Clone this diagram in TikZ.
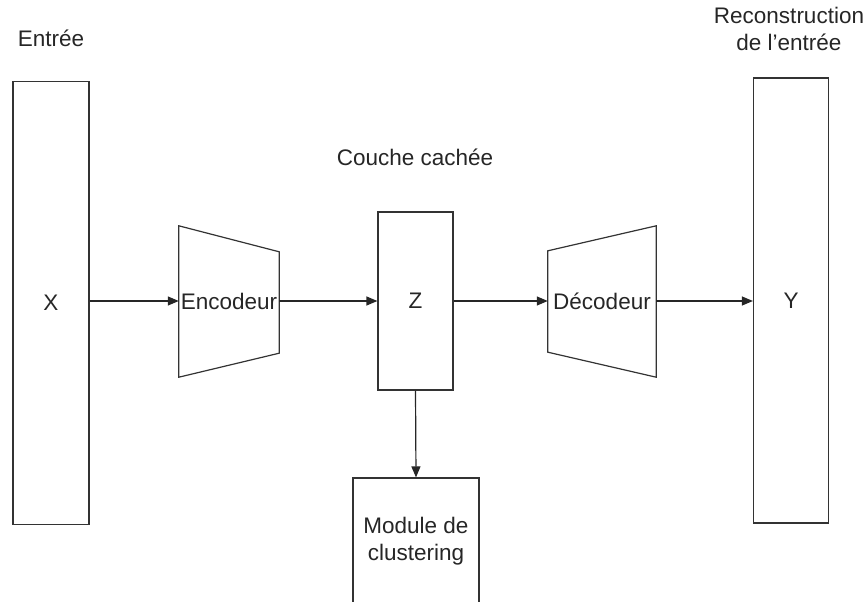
\documentclass[tikz,border=0pt]{standalone}
\usepackage{fontspec}
\setmainfont{Liberation Sans}
\usetikzlibrary{arrows.meta}
\begin{document}
\begin{tikzpicture}[x=1pt,y=-1pt,
  every node/.style={font=\fontsize{22.5}{27}\selectfont, text=black!85},
  box/.style={draw=black!80, line width=1.2pt, inner sep=0pt},
  label/.style={align=center, inner sep=0pt},
  arr/.style={draw=black!85, line width=1.2pt, -{Triangle[length=11pt,width=9pt]}}]
  \useasboundingbox (0,0) rectangle (865,602);

  % input and output layers
  \node[box, minimum width=76pt, minimum height=443pt] (X) at (51,303) {X};
  \node[box, minimum width=75pt, minimum height=445pt] (Y) at (791,300.5) {Y};
  % latent layer
  \node[box, minimum width=75pt, minimum height=178pt] (Z) at (415.5,301) {Z};
  % clustering module (runs off the lower edge)
  \node[box, minimum width=126pt, minimum height=126pt, label] (M) at (416,541) {Module de\\clustering};

  % encoder: narrowing trapezoid
  \node[inner sep=0pt, minimum width=100pt, minimum height=151pt] (enc) at (229,301.5) {Encodeur};
  \draw[black!80, line width=1.2pt]
    (enc.north west) -- ([yshift=-26pt]enc.north east) -- ([yshift=24pt]enc.south east)
    -- (enc.south west) -- cycle;
  % decoder: widening trapezoid
  \node[inner sep=0pt, minimum width=108pt, minimum height=151pt] (dec) at (602,301.5) {Décodeur};
  \draw[black!80, line width=1.2pt]
    ([yshift=-25pt]dec.north west) -- (dec.north east) -- (dec.south east)
    -- ([yshift=25pt]dec.south west) -- cycle;

  % captions
  \node[label] (tin) at (51,38) {Entrée};
  \node[label] (tz) at (415,157) {Couche cachée};
  \node[label] (tout) at (789,29) {Reconstruction\\de l\char"27 entrée};

  % data flow
  \draw[arr] (X.east |- Z) -- (enc.west |- Z);
  \draw[arr] (enc.east |- Z) -- (Z.west);
  \draw[arr] (Z.east) -- (dec.west |- Z);
  \draw[arr] (dec.east |- Z) -- (Y.west |- Z);
  \draw[arr] (Z.south) -- (M.north);
\end{tikzpicture}
\end{document}
